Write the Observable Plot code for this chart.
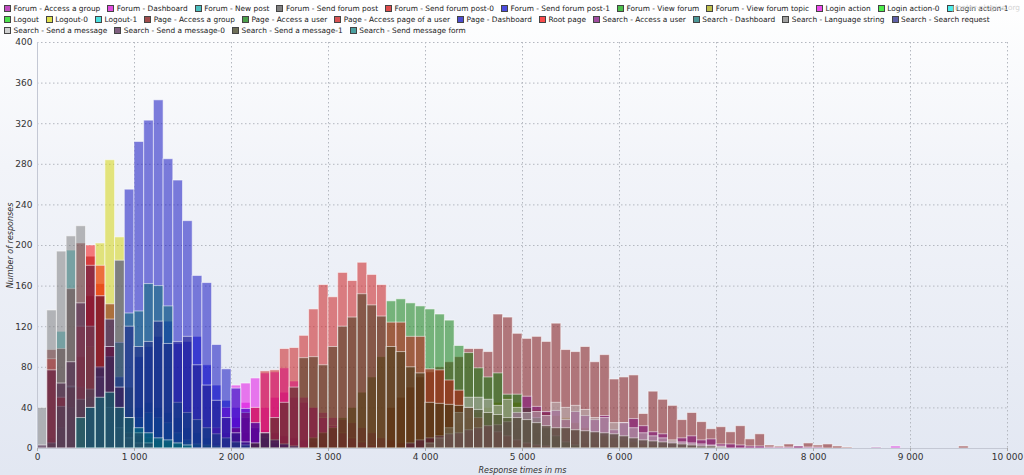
<!DOCTYPE html>
<html><head><meta charset="utf-8">
<script src="https://cdn.jsdelivr.net/npm/d3@7"></script>
<script src="https://cdn.jsdelivr.net/npm/@observablehq/plot@0.6"></script>
<style>
html,body{margin:0;padding:0;}
body{width:1024px;height:475px;overflow:hidden;background:linear-gradient(to bottom,#ffffff 0%,#f2f4f9 35%,#e2e7f2 100%);font-family:"DejaVu Sans",sans-serif;position:relative;}
#legend{position:relative;height:38px;padding:2.5px 0 0 4px;box-sizing:border-box;font-size:7.4px;color:#222;}
.row{height:11px;white-space:nowrap;display:flex;align-items:center;}
.item{display:inline-flex;align-items:center;margin-right:7px;}
.sw{width:5px;height:5px;border:1px solid #444;margin-right:2.5px;flex:none;}
#wm{position:absolute;right:4px;top:3px;color:#d4d4d4;font-size:7.4px;}
svg{overflow:visible;display:block;}
g[aria-label="x-axis label"] text,g[aria-label="y-axis label"] text{font-style:italic;font-size:8px;}
</style>
</head><body>
<div id="legend"></div>
<div id="wm">jmeter-plugins.org</div>
<div id="chart"></div>
<script>
const names = ["Forum - Access a group","Forum - Dashboard","Forum - New post","Forum - Send forum post","Forum - Send forum post-0","Forum - Send forum post-1","Forum - View forum","Forum - View forum topic","Login action","Login action-0","Login action-1","Logout","Logout-0","Logout-1","Page - Access a group","Page - Access a user","Page - Access page of a user","Page - Dashboard","Root page","Search - Access a user","Search - Dashboard","Search - Language string","Search - Search request","Search - Send a message","Search - Send a message-0","Search - Send a message-1","Search - Send message form"];
const colors = ["#a500a5","#d300d3","#00a5a5","#4a4a4a","#d30000","#0000d3","#00a500","#a5a500","#e600e6","#00e600","#00e6e6","#00d300","#d3d300","#00d3d3","#770000","#007800","#c80a0a","#0000bc","#f80000","#770077","#006c6c","#787878","#1c1c83","#bcbcbc","#4a1c4a","#333311","#007878"];

// counts per 100 ms bin (each list starts at the bin given in `segments`)
const forumAccessGroup = [5,8,12,15,20,18,15,12,10,8,6,4,2];
const forumDashboard = [15,30,45,40,40,50,55,50,45,40,35,30,28,25,20,15,10,8,5,3];
const forumNewPost = [10,115,195,48,40,30,30,35,40,40,45,40,35,30,20,15,10,5];
const forumSendPost = [5,8,10,12,15,18,20,22,25,20,18,15,12,10,8,6,5,4,3,2];
const forumSendPost0 = [77,50,60,90,150,162,100,40,15,5];
const forumSendPost1 = [30,60,90,100,110,125,103,105,110,82,62,47,40,30,20,10,5];
const forumViewForum = [3,5,8,10,14,18,20,16,12,10,8,6,5,4,3,2];
const forumViewTopic = [10,15,20,25,30,35,40,45,50,45,40,38,35,32,30,25,20,15,12,10,8,6,4,3,2];
const loginAction = [20,40,62,64,69,74,75,79,66,50,40,30,22,15,10,6,3];
const loginAction0 = [2,3,5,5,6,5,4,3,2];
const loginAction1 = [10,20,30,35,30,25,15,8,4];
const logout = [6,10,14,18,16,12,10,8,6,4,2];
const logout0 = [30,100,202,284,208,60,15,5];
const logout1 = [20,40,60,50,40,30,20,10,5];
const pageAccessGroupEarly = [97,98,157,202,189,150,142,60,30,12,5];
const pageAccessGroupLate = [40,50,60,70,75,80,85,90,98,98,95,132,129,113,108,110,105,123,97,95,100,85,92,68,70,72,34,56,48,42,28,35,26,19,21,16,22,9,14,3,2,4,2,5,3,4,2,1];
const pageAccessUser = [10,15,20,30,40,55,70,90,145,147,143,140,137,132,126,101,94,79,70,74,53,53,40,30,20,12,6,3];
const pageAccessPageUser = [20,35,40,76,77,98,99,111,137,161,149,173,165,183,171,161,124,124,110,110,78,77,67,57,40,30,22,16,12,8,5,3,2];
const pageDashboard = [25,70,255,302,323,343,285,264,224,170,163,102,78,59,39,25,15,8,4,2];
const rootPage = [88,50,60,120,200,180,100,40,15,5];
const searchAccessUser = [5,8,10,12,14,15,18,20,22,23,26,35,51,41,36,37,28,36,32,28,32,18,25,29,22,16,14,6,10,12,8,9,4,4,3,2,2,1,1,1,2,1,1];
const searchDashboard = [5,41,61,48,58,79,90,104,133,135,162,160,140,45,35,28,20,14,10,6,3];
const searchLangString = [40,136,194,209,219,120,70,40,20,10,5,2];
const searchSearchRequest = [40,80,127,185,120,100,105,125,103,105,110,82,62,47,30,15,6];
const searchSendMsg = [5,10,20,35,50,50,48,42,48,40,35,36,32,45,40,42,38,30,30,25,25,20,15,12,10,8,6,5,4,3,2];
const searchSendMsg0 = [3,77,64,85,143,180,150,100,60,30,15,5];
const searchSendMsg1 = [5,15,30,45,60,89,90,82,100,120,129,152,141,130,100,95,80,74,45,44,43,42,40,38,35,33,30,30,28,25,22,20,20,18,17,16,15,14,12,10,8,7,6,5,4,3,2,2,1];
const searchSendMsgForm = [30,40,50,55,40,30,20,15,10,8,5,3];
const lateSingles = [2, 1, 2];

// [series, first bin, counts]
const segments = [
  ["Forum - Access a group", 18, forumAccessGroup],
  ["Forum - Dashboard", 19, forumDashboard],
  ["Forum - Dashboard", 88, [lateSingles[0]]],
  ["Forum - New post", 1, forumNewPost],
  ["Forum - Send forum post", 40, forumSendPost],
  ["Forum - Send forum post-0", 1, forumSendPost0],
  ["Forum - Send forum post-1", 8, forumSendPost1],
  ["Forum - View forum", 2, forumViewForum],
  ["Forum - View forum topic", 40, forumViewTopic],
  ["Login action", 18, loginAction],
  ["Login action-0", 10, loginAction0],
  ["Login action-1", 8, loginAction1],
  ["Logout", 5, logout],
  ["Logout-0", 4, logout0],
  ["Logout-1", 2, logout1],
  ["Page - Access a group", 1, pageAccessGroupEarly],
  ["Page - Access a group", 36, pageAccessGroupLate],
  ["Page - Access a group", 95, [lateSingles[2]]],
  ["Page - Access a user", 28, pageAccessUser],
  ["Page - Access page of a user", 20, pageAccessPageUser],
  ["Page - Dashboard", 7, pageDashboard],
  ["Root page", 1, rootPage],
  ["Search - Access a user", 38, searchAccessUser],
  ["Search - Access a user", 86, [lateSingles[1]]],
  ["Search - Dashboard", 1, searchDashboard],
  ["Search - Language string", 0, searchLangString],
  ["Search - Search request", 5, searchSearchRequest],
  ["Search - Send a message", 40, searchSendMsg],
  ["Search - Send a message-0", 0, searchSendMsg0],
  ["Search - Send a message-1", 22, searchSendMsg1],
  ["Search - Send message form", 4, searchSendMsgForm]
];
const yTicks = [0,40,80,120,160,200,240,280,320,360,400];
const xTicks = [0,1000,2000,3000,4000,5000,6000,7000,8000,9000,10000];
const binWidth = 100;

const rows = [];
segments.forEach(([name, start, counts]) => {
  counts.forEach((c, j) => {
    if (c > 0) rows.push({series: name, x1: (start + j) * binWidth, x2: (start + j + 1) * binWidth, count: c, order: names.indexOf(name)});
  });
});
rows.sort((a, b) => a.order - b.order);

// legend
const legend = document.getElementById("legend");
const breaks = [0, 11, 23, names.length];
for (let r = 0; r < 3; r++) {
  const row = document.createElement("div");
  row.className = "row";
  for (let i = breaks[r]; i < breaks[r + 1]; i++) {
    const it = document.createElement("span");
    it.className = "item";
    const sw = document.createElement("span");
    sw.className = "sw";
    const c = d3.color(colors[i]); c.opacity = 0.7;
    sw.style.background = c.formatRgb();
    it.appendChild(sw);
    it.appendChild(document.createTextNode(names[i]));
    row.appendChild(it);
  }
  legend.appendChild(row);
}

const xFmt = d => d3.format(",")(d).replace(/,/g, " ");

const chart = Plot.plot({
  width: 1024, height: 437,
  marginTop: 4, marginLeft: 37, marginRight: 17, marginBottom: 27,
  style: {background: "transparent", fontFamily: "DejaVu Sans, sans-serif", fontSize: "9px", color: "#333", overflow: "visible"},
  x: {domain: [0, 10000]},
  y: {domain: [0, 400]},
  color: {domain: names, range: colors},
  marks: [
    Plot.gridY(yTicks, {stroke: "#b4b8c0", strokeOpacity: 1, strokeDasharray: "1.5,2.5"}),
    Plot.gridX(xTicks, {stroke: "#b4b8c0", strokeOpacity: 1, strokeDasharray: "1.5,2.5"}),
    Plot.rect(rows, {x1: "x1", x2: "x2", y1: 0, y2: "count", fill: "series", fillOpacity: 0.5, stroke: "#ffffff", strokeOpacity: 0.55, strokeWidth: 1}),
    Plot.ruleY([0], {stroke: "#c4c8d4"}),
    Plot.ruleX([0], {stroke: "#c4c8d4"}),
    Plot.axisX(xTicks, {tickFormat: xFmt, tickSize: 3, tickPadding: 2, stroke: "#aaa", label: "Response times in ms", labelAnchor: "center", labelArrow: "none", labelOffset: 24}),
    Plot.axisY(yTicks, {tickSize: 0, tickPadding: 5, label: "Number of responses", labelAnchor: "center", labelArrow: "none", labelOffset: 30})
  ]
});
document.getElementById("chart").appendChild(chart);
</script>
</body></html>
